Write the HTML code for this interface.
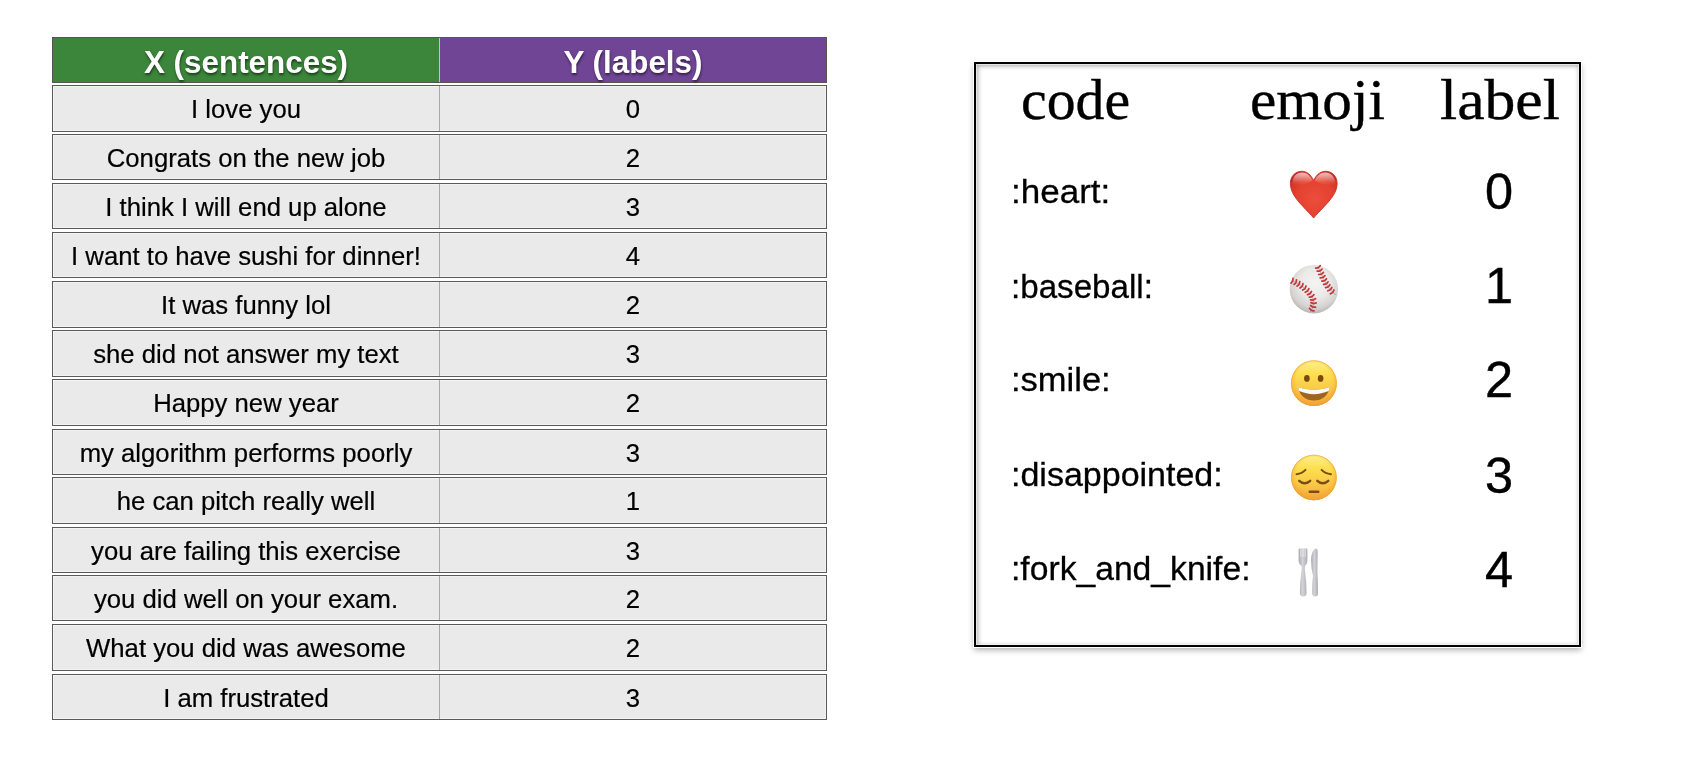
<!DOCTYPE html>
<html><head><meta charset="utf-8"><style>
html,body{margin:0;padding:0;background:#fff;}
body{width:1694px;height:760px;position:relative;overflow:hidden;will-change:transform;font-family:"Liberation Sans",Arial,sans-serif;}
.hdr{position:absolute;left:52px;top:37px;width:775px;height:46px;box-sizing:border-box;border:1px solid #555;}
.hdr .g{position:absolute;left:0;top:0;width:386px;height:44px;background:#3b863a;}
.hdr .p{position:absolute;left:387px;top:0;width:386px;height:44px;background:#704596;}
.hdr .sep{position:absolute;left:386px;top:0;width:1px;height:44px;background:#c2c2c2;}
.hdr span{position:absolute;top:2.5px;width:386px;text-align:center;color:#fff;font-weight:700;font-size:31.4px;line-height:44px;text-shadow:0.5px 1.5px 2.5px rgba(0,0,0,.55);white-space:nowrap;}
.row{position:absolute;left:52px;width:775px;height:47px;box-sizing:border-box;border:1px solid #5a5a5a;background:#eaeaea;box-shadow:inset 0 0 0 1px #f3f3f3;}
.row .c1,.row .c2{position:absolute;top:1px;height:45px;line-height:45px;text-align:center;font-size:25.7px;color:#000;white-space:nowrap;-webkit-text-stroke:0.2px #000;}
.row .c1{left:0;width:386px;}
.row .c2{left:387px;width:386px;}
.row .sp{position:absolute;left:386px;top:0;bottom:0;width:1px;background:#a8a8a8;}
.panel{position:absolute;left:974px;top:62px;width:607px;height:585px;box-sizing:border-box;border:2px solid #000;background:#fff;box-shadow:0 0 0 1px #fff,0 3px 6px 0 rgba(0,0,0,.32);}
.panel .in{position:absolute;left:0;top:0;right:0;bottom:0;box-shadow:inset 0 0 0 1px rgba(255,255,255,.6),inset 2px 2px 5px rgba(0,0,0,.3),inset -1px 0 4px rgba(0,0,0,.16);}
.hd{position:absolute;font-family:"Liberation Serif","Times New Roman",serif;font-size:57.5px;line-height:57.5px;color:#000;-webkit-text-stroke:0.35px #000;white-space:nowrap;transform-origin:0 0;}
.code{position:absolute;left:1011px;font-size:34px;line-height:34px;color:#000;-webkit-text-stroke:0.3px #000;white-space:nowrap;transform-origin:0 0;}
.lab{position:absolute;left:1474px;width:50px;text-align:center;font-size:50.5px;line-height:50px;color:#000;-webkit-text-stroke:0.4px #000;}
svg.em{position:absolute;left:0;top:0;}
</style></head><body>
<div class="hdr"><div class="g"></div><div class="sep"></div><div class="p"></div><span style="left:0">X (sentences)</span><span style="left:387px">Y (labels)</span></div>
<div class="row" style="top:85px;height:47px"><div class="sp"></div><div class="c1">I love you</div><div class="c2">0</div></div>
<div class="row" style="top:134px;height:46px"><div class="sp"></div><div class="c1">Congrats on the new job</div><div class="c2">2</div></div>
<div class="row" style="top:183px;height:46px"><div class="sp"></div><div class="c1">I think I will end up alone</div><div class="c2">3</div></div>
<div class="row" style="top:232px;height:46px"><div class="sp"></div><div class="c1">I want to have sushi for dinner!</div><div class="c2">4</div></div>
<div class="row" style="top:281px;height:47px"><div class="sp"></div><div class="c1">It was funny lol</div><div class="c2">2</div></div>
<div class="row" style="top:330px;height:47px"><div class="sp"></div><div class="c1">she did not answer my text</div><div class="c2">3</div></div>
<div class="row" style="top:379px;height:47px"><div class="sp"></div><div class="c1">Happy new year</div><div class="c2">2</div></div>
<div class="row" style="top:429px;height:46px"><div class="sp"></div><div class="c1">my algorithm performs poorly</div><div class="c2">3</div></div>
<div class="row" style="top:477px;height:47px"><div class="sp"></div><div class="c1">he can pitch really well</div><div class="c2">1</div></div>
<div class="row" style="top:527px;height:46px"><div class="sp"></div><div class="c1">you are failing this exercise</div><div class="c2">3</div></div>
<div class="row" style="top:575px;height:46px"><div class="sp"></div><div class="c1">you did well on your exam.</div><div class="c2">2</div></div>
<div class="row" style="top:624px;height:47px"><div class="sp"></div><div class="c1">What you did was awesome</div><div class="c2">2</div></div>
<div class="row" style="top:674px;height:46px"><div class="sp"></div><div class="c1">I am frustrated</div><div class="c2">3</div></div>

<div class="panel"><div class="in"></div></div>
<span class="hd" style="left:1021px;top:71px;transform:scaleX(1.005)">code</span>
<span class="hd" style="left:1250px;top:71px;transform:scaleX(1.03)">emoji</span>
<span class="hd" style="left:1440px;top:71px;transform:scaleX(1.073)">label</span>
<span class="code" style="top:174.2px;transform:scaleX(1.03)">:heart:</span>
<span class="code" style="top:268.9px;transform:scaleX(0.975)">:baseball:</span>
<span class="code" style="top:362.1px;transform:scaleX(1.015)">:smile:</span>
<span class="code" style="top:456.6px;transform:scaleX(1.0)">:disappointed:</span>
<span class="code" style="top:551.4px;transform:scaleX(0.99)">:fork_and_knife:</span>
<span class="lab" style="top:166.8px">0</span>
<span class="lab" style="top:260.6px">1</span>
<span class="lab" style="top:355.3px">2</span>
<span class="lab" style="top:451.0px">3</span>
<span class="lab" style="top:544.9px">4</span>

<svg class="em" width="1694" height="760" viewBox="0 0 1694 760">
<defs>
<radialGradient id="hg" cx="0.52" cy="0.58" r="0.62"><stop offset="0" stop-color="#ec4d3d"/><stop offset="0.65" stop-color="#e4412f"/><stop offset="0.92" stop-color="#d23426"/><stop offset="1" stop-color="#c02a20"/></radialGradient>
<linearGradient id="hl" x1="0" y1="0" x2="0" y2="1"><stop offset="0" stop-color="#fff" stop-opacity="0.7"/><stop offset="0.3" stop-color="#fff" stop-opacity="0.5"/><stop offset="0.75" stop-color="#fff" stop-opacity="0.12"/><stop offset="1" stop-color="#fff" stop-opacity="0"/></linearGradient>
<radialGradient id="bb" cx="0.52" cy="0.38" r="0.62"><stop offset="0" stop-color="#f4f4f2"/><stop offset="0.5" stop-color="#eae9e7"/><stop offset="0.82" stop-color="#d5d3d1"/><stop offset="1" stop-color="#b9b7b5"/></radialGradient>
<linearGradient id="fyl" x1="0" y1="0" x2="0" y2="1"><stop offset="0" stop-color="#fdf08c"/><stop offset="0.3" stop-color="#fcdf50"/><stop offset="0.65" stop-color="#f9c845"/><stop offset="1" stop-color="#f3a638"/></linearGradient>
<radialGradient id="fyr" cx="0.5" cy="0.45" r="0.55"><stop offset="0.7" stop-color="#f5a535" stop-opacity="0"/><stop offset="0.93" stop-color="#f2a134" stop-opacity="0.55"/><stop offset="1" stop-color="#ec942c" stop-opacity="0.9"/></radialGradient>
<linearGradient id="sv" x1="0" y1="0" x2="1" y2="0"><stop offset="0" stop-color="#a9a7ae"/><stop offset="0.45" stop-color="#d4d4d8"/><stop offset="1" stop-color="#adabb2"/></linearGradient>
</defs>
<!-- heart -->
<path d="M1313.6 180.4 C1311 175 1307 171.3 1302 171.3 C1295 171.3 1290.4 176.5 1290.4 183.5 C1290.4 192 1296 199 1303 206.5 C1307 211 1311 214.5 1313.6 218 C1316.2 214.5 1320.2 211 1324.2 206.5 C1331.2 199 1337.1 192 1337.1 183.5 C1337.1 176.5 1332.5 171.3 1325.3 171.3 C1320.3 171.3 1316.3 175 1313.6 180.4 Z" fill="url(#hg)" stroke="#c62d24" stroke-width="0.9"/>
<path d="M1292.2 184.5 C1292.2 176.5 1296.5 172.4 1302 172.4 C1306.8 172.4 1310.3 175.6 1312.6 180.6 C1306 185 1298.5 186 1292.2 184.5 Z" fill="url(#hl)"/>
<path d="M1314.6 180.6 C1316.9 175.6 1320.4 172.4 1325.3 172.4 C1331 172.4 1335.3 176.5 1335.3 184.5 C1329 186 1321.5 185 1314.6 180.6 Z" fill="url(#hl)"/>
<!-- baseball -->
<circle cx="1313.9" cy="289.2" r="24.2" fill="url(#bb)"/>
<g fill="none"><path d="M1291.5 280.5 C1298 283 1306 288 1311 295 C1314.5 300 1314.5 306 1310.3 311.8" stroke="#9a9696" stroke-width="0.7"/><path d="M1317.7 266.5 C1320 270 1322 277 1327 285 C1330 290 1333 293 1336.1 294.9" stroke="#9a9696" stroke-width="0.7"/><path d="M1292.41 281.51L1290.99 283.09M1292.87 280.40L1293.00 278.29M1295.64 283.02L1294.11 284.48M1296.19 281.95L1296.48 279.85M1298.71 284.74L1297.07 286.08M1299.33 283.71L1299.77 281.64M1301.69 286.72L1299.96 287.93M1302.39 285.74L1302.99 283.71M1304.48 288.89L1302.66 289.96M1305.26 287.98L1306.02 286.00M1307.10 291.32L1305.19 292.22M1307.96 290.47L1308.89 288.57M1309.44 293.93L1307.44 294.64M1310.37 293.18L1311.49 291.38M1311.42 296.82L1309.33 297.15M1312.47 296.25L1313.90 294.68M1312.63 300.01L1310.53 299.78M1313.80 299.74L1315.59 298.60M1312.92 303.43L1310.97 302.61M1314.12 303.50L1316.16 302.92M1312.26 306.79L1310.58 305.50M1313.40 307.17L1315.52 307.14M1310.82 309.92L1309.45 308.30M1311.85 310.53L1313.93 310.95" stroke="#c2363a" stroke-width="1.75" stroke-linecap="round" fill="none"/><path d="M1317.79 267.82L1315.70 268.18M1318.84 267.24L1320.25 265.66M1319.35 271.03L1317.23 271.21M1320.44 270.54L1321.98 269.08M1320.80 274.33L1318.69 274.50M1321.90 273.84L1323.44 272.39M1322.31 277.63L1320.20 277.86M1323.39 277.11L1324.90 275.62M1323.95 280.89L1321.85 281.21M1325.01 280.33L1326.45 278.78M1325.72 284.05L1323.64 284.47M1326.75 283.44L1328.11 281.81M1327.61 287.09L1325.55 287.61M1328.61 286.42L1329.88 284.73M1329.79 290.05L1327.80 290.78M1330.72 289.29L1331.82 287.48M1332.30 292.75L1330.42 293.73M1333.12 291.87L1333.97 289.93" stroke="#c2363a" stroke-width="1.75" stroke-linecap="round" fill="none"/></g>
<!-- smile -->
<circle cx="1313.9" cy="383.2" r="22.9" fill="url(#fyl)"/>
<circle cx="1313.9" cy="383.2" r="22.9" fill="url(#fyr)"/><circle cx="1313.9" cy="383.2" r="22.5" fill="none" stroke="#ef9f33" stroke-width="0.8" stroke-opacity="0.7"/>
<ellipse cx="1306.9" cy="378.4" rx="2.8" ry="3.4" fill="#7a4712"/>
<ellipse cx="1320.6" cy="378.4" rx="2.8" ry="3.4" fill="#7a4712"/>
<path d="M1298.3 387.0 C1308 390.6 1320 390.6 1329.5 387.0 C1328.8 395.5 1322 400.6 1314 400.6 C1306 400.6 1299 395.5 1298.3 387.0 Z" fill="#a0641d"/>
<path d="M1298.3 387.0 C1308 390.6 1320 390.6 1329.5 387.0 C1329.4 388.6 1329.1 390 1328.7 391.1 C1319 395.2 1308.8 395.2 1299.1 391.1 C1298.7 390 1298.4 388.6 1298.3 387.0 Z" fill="#f8f8f8"/>
<!-- pensive -->
<circle cx="1313.9" cy="477.5" r="22.8" fill="url(#fyl)"/>
<circle cx="1313.9" cy="477.5" r="22.8" fill="url(#fyr)"/><circle cx="1313.9" cy="477.5" r="22.4" fill="none" stroke="#ef9f33" stroke-width="0.8" stroke-opacity="0.7"/>
<g fill="none" stroke="#7c4c16" stroke-linecap="round">
<path d="M1296.6 474.2 Q1302 473.6 1305.5 469.9" stroke-width="2"/>
<path d="M1321.6 469.9 Q1325 473.6 1331 474.2" stroke-width="2"/>
<path d="M1299.2 480.8 Q1304.7 485.8 1310.2 480.8" stroke-width="2.4"/>
<path d="M1317.3 480.8 Q1322.8 485.8 1328.3 480.8" stroke-width="2.4"/>
<path d="M1309.7 491.7 L1318.3 491.7" stroke-width="2.4"/>
</g>
<!-- fork -->
<path d="M1298.6 549.5 Q1298.6 548.6 1299.4 548.6 L1306.6 548.6 Q1307.4 548.6 1307.4 549.5 L1307.4 560 Q1307.4 564.5 1304.8 566 L1304.9 570 Q1306.6 582 1306.6 593 Q1306.6 596.4 1303.25 596.4 Q1299.9 596.4 1299.9 593 Q1299.9 582 1301.6 570 L1301.7 566 Q1298.6 564.5 1298.6 560 Z" fill="url(#sv)"/>
<g stroke="#f2f2f4" stroke-width="0.7"><path d="M1300.8 548.6 V557"/><path d="M1303 548.6 V557"/><path d="M1305.2 548.6 V557"/></g>
<!-- knife -->
<path d="M1315.8 548.4 Q1317.7 548.5 1317.7 551.5 L1317.4 573 Q1318 580 1318 593 Q1318 596.5 1315.1 596.5 Q1312.2 596.5 1312.2 593 Q1312.2 582 1313 576 Q1311 568 1311.1 560 Q1311.3 550 1315.8 548.4 Z" fill="url(#sv)"/>
</svg>

</body></html>
